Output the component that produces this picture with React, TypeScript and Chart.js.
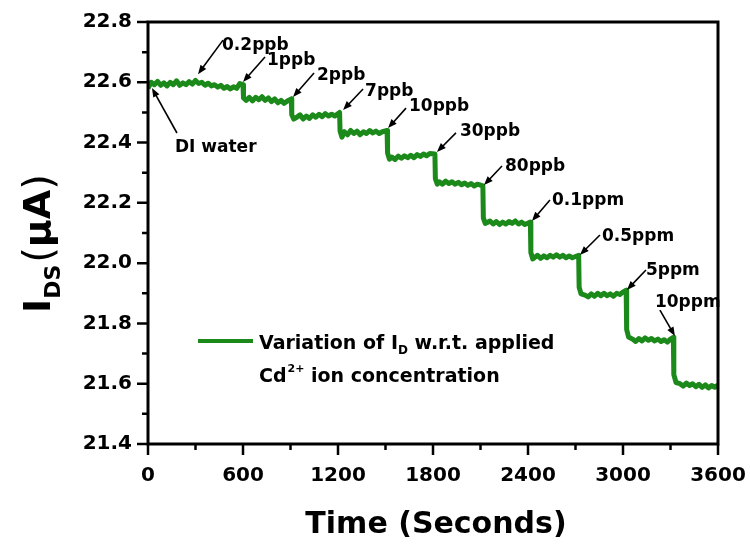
import React, { useEffect, useRef } from "react";
import { Chart, registerables } from "chart.js";

Chart.register(...registerables);

// ---------- data ----------
const timeSec: number[] = [
  0, 20, 40, 60, 80, 100, 120, 140, 160, 180, 200, 220, 240, 260, 280, 300, 320, 340, 360, 380, 400, 420, 440, 460, 480, 500, 520, 540, 560, 580, 600, 603,
  620, 640, 660, 680, 700, 720, 740, 760, 780, 800, 820, 840, 860, 880, 905, 908, 920,
  940, 960, 980, 1000, 1020, 1040, 1060, 1080, 1100, 1120, 1140, 1160, 1180, 1210, 1213, 1225,
  1240, 1260, 1280, 1300, 1320, 1340, 1360, 1380, 1400, 1420, 1440, 1460, 1480, 1510, 1513, 1525,
  1540, 1560, 1580, 1600, 1620, 1640, 1660, 1680, 1700, 1720, 1740, 1760, 1780, 1812, 1815, 1827,
  1840, 1860, 1880, 1900, 1920, 1940, 1960, 1980, 2000, 2020, 2040, 2060, 2080, 2115, 2118, 2130,
  2140, 2160, 2180, 2200, 2220, 2240, 2260, 2280, 2300, 2320, 2340, 2360, 2380, 2415, 2418, 2430,
  2440, 2460, 2480, 2500, 2520, 2540, 2560, 2580, 2600, 2620, 2640, 2660, 2680, 2700, 2720, 2723, 2735,
  2760, 2780, 2800, 2820, 2840, 2860, 2880, 2900, 2920, 2940, 2960, 2980, 3000, 3020, 3023, 3035,
  3060, 3080, 3100, 3120, 3140, 3160, 3180, 3200, 3220, 3240, 3260, 3280, 3300, 3318, 3321, 3335,
  3360, 3380, 3400, 3420, 3440, 3460, 3480, 3500, 3520, 3540, 3560, 3580, 3600,
];

const currentUA: number[] = [
  22.58, 22.6, 22.592, 22.603, 22.59, 22.598, 22.588, 22.6, 22.592, 22.605, 22.59, 22.598, 22.592, 22.602, 22.594, 22.606, 22.596, 22.6, 22.59, 22.597, 22.588, 22.592, 22.584, 22.59, 22.58, 22.586, 22.578, 22.585, 22.58, 22.596, 22.592, 22.548,
  22.54, 22.55, 22.538, 22.55, 22.542, 22.552, 22.54, 22.548, 22.536, 22.545, 22.532, 22.54, 22.53, 22.538, 22.545, 22.492, 22.478,
  22.484, 22.492, 22.478, 22.488, 22.48, 22.492, 22.484, 22.494, 22.486, 22.496, 22.488, 22.494, 22.488, 22.5, 22.438, 22.418,
  22.436, 22.426, 22.44, 22.43, 22.438, 22.426, 22.436, 22.43, 22.44, 22.432, 22.438, 22.43, 22.436, 22.44, 22.365, 22.345,
  22.352, 22.344, 22.355, 22.348, 22.356, 22.35, 22.358, 22.35, 22.36, 22.354, 22.362, 22.356, 22.364, 22.362, 22.28, 22.262,
  22.27, 22.262, 22.272, 22.264, 22.27, 22.262, 22.268, 22.26, 22.266, 22.258, 22.264, 22.256, 22.262, 22.256, 22.15, 22.132,
  22.134, 22.14, 22.13, 22.138, 22.128, 22.136, 22.13, 22.138, 22.132, 22.14, 22.13, 22.136, 22.128, 22.136, 22.035, 22.014,
  22.018, 22.026, 22.016, 22.024, 22.018, 22.026, 22.02, 22.028, 22.02, 22.026, 22.018, 22.024, 22.018, 22.022, 22.026, 21.92, 21.898,
  21.894, 21.888, 21.898, 21.89, 21.9, 21.892, 21.9, 21.892, 21.898, 21.89, 21.9, 21.896, 21.904, 21.91, 21.78, 21.755,
  21.748, 21.74, 21.75, 21.742, 21.752, 21.744, 21.75, 21.742, 21.748, 21.74, 21.746, 21.738, 21.748, 21.754, 21.63, 21.604,
  21.6, 21.592, 21.602, 21.594, 21.6, 21.59, 21.598, 21.588, 21.596, 21.586, 21.594, 21.588, 21.596,
];

const xTickValues = [0, 600, 1200, 1800, 2400, 3000, 3600];
const yTickValues = [21.4, 21.6, 21.8, 22.0, 22.2, 22.4, 22.6, 22.8];

const annotationLabels = ["DI water", "0.2ppb", "1ppb", "2ppb", "7ppb", "10ppb", "30ppb", "80ppb", "0.1ppm", "0.5ppm", "5ppm", "10ppm"];
const annotationTipTime = [25, 316, 600, 916, 1232, 1516, 1825, 2122, 2425, 2728, 3025, 3328];
const annotationTipValue = [22.581, 22.627, 22.601, 22.551, 22.508, 22.448, 22.369, 22.259, 22.14, 22.027, 21.911, 21.758];

const xTitle = "Time (Seconds)";
const legendLine1 = ["Variation of I", "D", " w.r.t. applied"];
const legendLine2 = ["Cd", "2+", " ion concentration"];

// ---------- layout / style (not data) ----------
const FONT = '"DejaVu Sans", sans-serif';
const GREEN = "#1b8a1b";
// offsets relative to arrow tip: text (tx,ty) left/baseline, arrow tail (ax,ay)
const annotationLayout = [
  { tx: 23, ty: 64, ax: 25, ay: 45 },
  { tx: 24, ty: -24, ax: 25, ay: -34 },
  { tx: 24, ty: -17, ax: 22, ay: -25 },
  { tx: 24, ty: -17, ax: 21, ay: -24 },
  { tx: 22, ty: -14, ax: 20, ay: -21 },
  { tx: 21, ty: -17, ax: 18, ay: -20 },
  { tx: 23, ty: -16, ax: 19, ay: -19 },
  { tx: 21, ty: -14, ax: 18, ay: -19 },
  { tx: 20, ty: -16, ax: 18, ay: -21 },
  { tx: 22, ty: -14, ax: 20, ay: -20 },
  { tx: 19, ty: -15, ax: 19, ay: -20 },
  { tx: -20, ty: -29, ax: -15, ay: -26 },
];

function drawArrow(ctx: CanvasRenderingContext2D, x1: number, y1: number, x2: number, y2: number) {
  const ang = Math.atan2(y2 - y1, x2 - x1);
  const len = 9;
  const hw = 3.5;
  ctx.beginPath();
  ctx.moveTo(x1, y1);
  ctx.lineTo(x2 - Math.cos(ang) * len * 0.7, y2 - Math.sin(ang) * len * 0.7);
  ctx.lineWidth = 1.6;
  ctx.stroke();
  ctx.beginPath();
  ctx.moveTo(x2, y2);
  ctx.lineTo(x2 - len * Math.cos(ang) + hw * Math.sin(ang), y2 - len * Math.sin(ang) - hw * Math.cos(ang));
  ctx.lineTo(x2 - len * Math.cos(ang) - hw * Math.sin(ang), y2 - len * Math.sin(ang) + hw * Math.cos(ang));
  ctx.closePath();
  ctx.fill();
}

const decorPlugin = {
  id: "decor",
  afterDraw(chart: any) {
    const ctx: CanvasRenderingContext2D = chart.ctx;
    const { left, right, top, bottom } = chart.chartArea;
    const xs = chart.scales.x;
    const ys = chart.scales.y;
    ctx.save();
    ctx.strokeStyle = "#000";
    ctx.fillStyle = "#000";

    // frame
    ctx.lineWidth = 3;
    ctx.strokeRect(left, top, right - left, bottom - top);

    // tick marks
    ctx.lineWidth = 2.5;
    ctx.beginPath();
    xTickValues.forEach((v, i) => {
      const px = xs.getPixelForValue(v);
      ctx.moveTo(px, bottom);
      ctx.lineTo(px, bottom + 11);
      if (i < xTickValues.length - 1) {
        const mx = xs.getPixelForValue((v + xTickValues[i + 1]) / 2);
        ctx.moveTo(mx, bottom);
        ctx.lineTo(mx, bottom + 6);
      }
    });
    yTickValues.forEach((v, i) => {
      const py = ys.getPixelForValue(v);
      ctx.moveTo(left, py);
      ctx.lineTo(left - 11, py);
      if (i < yTickValues.length - 1) {
        const my = ys.getPixelForValue((v + yTickValues[i + 1]) / 2);
        ctx.moveTo(left, my);
        ctx.lineTo(left - 6, my);
      }
    });
    ctx.stroke();

    // annotations
    ctx.font = `bold 17px ${FONT}`;
    ctx.textAlign = "left";
    ctx.textBaseline = "alphabetic";
    annotationLabels.forEach((label, i) => {
      const tipX = xs.getPixelForValue(annotationTipTime[i]);
      const tipY = ys.getPixelForValue(annotationTipValue[i]);
      const l = annotationLayout[i];
      ctx.fillText(label, tipX + l.tx, tipY + l.ty);
      drawArrow(ctx, tipX + l.ax, tipY + l.ay, tipX, tipY);
    });

    // legend
    ctx.strokeStyle = GREEN;
    ctx.lineWidth = 4;
    ctx.beginPath();
    ctx.moveTo(198, 341);
    ctx.lineTo(253, 341);
    ctx.stroke();
    ctx.fillStyle = "#000";
    let x = 259;
    ctx.font = `bold 19px ${FONT}`;
    ctx.fillText(legendLine1[0], x, 349);
    x += ctx.measureText(legendLine1[0]).width;
    ctx.font = `bold 12px ${FONT}`;
    ctx.fillText(legendLine1[1], x, 354);
    x += ctx.measureText(legendLine1[1]).width;
    ctx.font = `bold 19px ${FONT}`;
    ctx.fillText(legendLine1[2], x, 349);
    x = 259;
    ctx.fillText(legendLine2[0], x, 382);
    x += ctx.measureText(legendLine2[0]).width;
    ctx.font = `bold 11px ${FONT}`;
    ctx.fillText(legendLine2[1], x + 1, 372);
    x += ctx.measureText(legendLine2[1]).width + 1;
    ctx.font = `bold 19px ${FONT}`;
    ctx.fillText(legendLine2[2], x, 382);

    // x title
    ctx.font = `bold 30px ${FONT}`;
    ctx.textAlign = "center";
    ctx.fillText(xTitle, (left + right) / 2 + 3, 533);

    // y title: I_DS(μA), rotated
    ctx.save();
    ctx.translate(50, 313);
    ctx.rotate(-Math.PI / 2);
    ctx.textAlign = "left";
    let p = 0;
    ctx.font = `bold 38px ${FONT}`;
    ctx.fillText("I", p, 0);
    p += ctx.measureText("I").width;
    ctx.font = `bold 22px ${FONT}`;
    ctx.fillText("DS", p, 10);
    p += ctx.measureText("DS").width + 2;
    ctx.font = `40px ${FONT}`;
    ctx.fillText("(", p, 2);
    p += ctx.measureText("(").width;
    ctx.font = `bold 38px ${FONT}`;
    ctx.fillText("\u03bcA", p, 0);
    p += ctx.measureText("\u03bcA").width;
    ctx.font = `40px ${FONT}`;
    ctx.fillText(")", p, 2);
    ctx.restore();

    ctx.restore();
  },
};

function zeroPad(s: any) {
  s.paddingLeft = 0;
  s.paddingRight = 0;
  s.paddingTop = 0;
  s.paddingBottom = 0;
}

export default function App() {
  const ref = useRef<HTMLCanvasElement | null>(null);

  useEffect(() => {
    document.body.style.margin = "0";
    const canvas = ref.current;
    if (!canvas) return;
    const points = timeSec.map((t, i) => ({ x: t, y: currentUA[i] }));
    const chart = new Chart(canvas, {
      type: "line",
      data: {
        datasets: [
          {
            label: "Variation of ID w.r.t. applied Cd2+ ion concentration",
            data: points,
            borderColor: GREEN,
            backgroundColor: GREEN,
            borderWidth: 5,
            pointRadius: 0,
            tension: 0,
            borderJoinStyle: "round",
          } as any,
        ],
      },
      options: {
        animation: false,
        responsive: false,
        maintainAspectRatio: false,
        layout: { padding: { top: 22, right: 32, left: 0, bottom: 0 } },
        plugins: { legend: { display: false }, tooltip: { enabled: false } },
        scales: {
          x: {
            type: "linear",
            min: 0,
            max: 3600,
            afterFit: (s: any) => {
              s.height = 101;
              zeroPad(s);
            },
            afterBuildTicks: (s: any) => {
              s.ticks = xTickValues.map((v) => ({ value: v }));
            },
            grid: { drawOnChartArea: false, drawTicks: false },
            border: { display: false },
            ticks: {
              padding: 20,
              color: "#000",
              font: { family: FONT, size: 20, weight: "bold" },
              callback: (v: any) => String(v),
              maxRotation: 0,
              autoSkip: false,
            },
          },
          y: {
            type: "linear",
            min: 21.4,
            max: 22.8,
            afterFit: (s: any) => {
              s.width = 148;
              zeroPad(s);
            },
            afterBuildTicks: (s: any) => {
              s.ticks = yTickValues.map((v) => ({ value: v }));
            },
            grid: { drawOnChartArea: false, drawTicks: false },
            border: { display: false },
            ticks: {
              padding: 16,
              color: "#000",
              font: { family: FONT, size: 20, weight: "bold" },
              callback: (v: any) => Number(v).toFixed(1),
              autoSkip: false,
            },
          },
        },
      },
      plugins: [decorPlugin],
    });
    return () => chart.destroy();
  }, []);

  return <canvas ref={ref} width={750} height={545} style={{ display: "block", width: 750, height: 545 }} />;
}
